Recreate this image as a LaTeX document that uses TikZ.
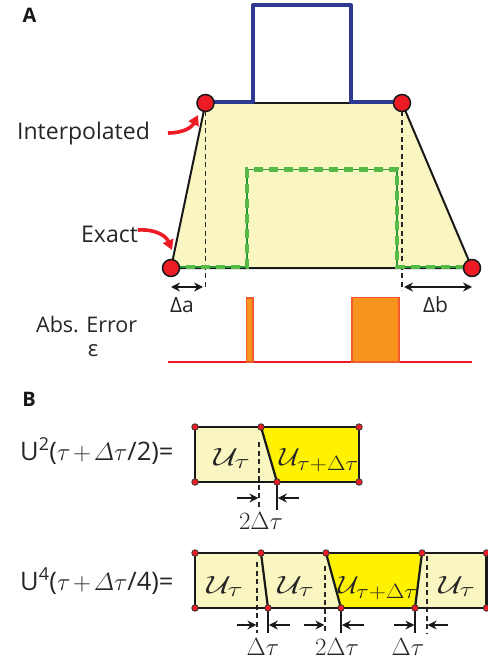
\documentclass[tikz,border=0pt]{standalone}
\usepackage[no-math]{fontspec}
\setmainfont{Open Sans}
\usepackage{amsmath}
\usetikzlibrary{arrows.meta}
\definecolor{lightyel}{RGB}{250,246,194}
\definecolor{brightyel}{RGB}{255,242,0}
\definecolor{bluec}{RGB}{43,57,144}
\definecolor{greenc}{RGB}{88,186,70}
\definecolor{greendk}{RGB}{40,150,60}
\definecolor{redc}{RGB}{237,28,36}
\definecolor{orangef}{RGB}{247,148,29}
\definecolor{orangel}{RGB}{241,90,41}
\newcommand\Ut{\scalebox{1.35}[1]{$\mathcal{U}_\tau$}}
\newcommand\Utd{\scalebox{1.15}[1]{$\mathcal{U}_{\tau+\Delta\tau}$}}
\tikzset{
  outl/.style={line width=2pt,black!90},
  dashln/.style={line width=1.4pt,black!85,dash pattern=on 5pt off 3.5pt},
  greenthin/.style={line width=1.1pt,greendk},
  greendash/.style={line width=4.6pt,greenc,dash pattern=on 9pt off 6pt},
  bluel/.style={line width=4pt,bluec,line join=round},
  bigdot/.style={circle,fill=redc,draw=black!90,line width=1.5pt,minimum size=17pt,inner sep=0pt},
  smalldot/.style={circle,fill=redc,draw=black!80,line width=0.8pt,minimum size=6.5pt,inner sep=0pt},
  dimarr/.style={line width=1.8pt,black!90,{Stealth[length=9pt,width=9pt]}-{Stealth[length=9pt,width=9pt]}},
  onearr/.style={line width=1.8pt,black!90,-{Stealth[length=9pt,width=9pt]}},
  redarr/.style={line width=3.6pt,redc,-{Triangle[length=10pt,width=11pt]}},
  bar/.style={fill=orangef,draw=orangel,line width=1.5pt},
  boxl/.style={line width=2.2pt,black!90,line join=round},
  tick/.style={line width=1.8pt,black!90},
  lbl/.style={inner sep=0pt,anchor=base west,font=\fontsize{23}{26}\selectfont,text=black!85},
  panel/.style={inner sep=0pt,font=\fontsize{20}{22}\selectfont\bfseries,text=black!90},
  mlab/.style={inner sep=0pt,anchor=base,font=\fontsize{29}{31}\selectfont,text=black!85},
  dlab/.style={inner sep=0pt,anchor=base,font=\fontsize{25}{27}\selectfont,text=black!85}
}
\begin{document}
\begin{tikzpicture}[x=1pt,y=-1pt]
\useasboundingbox (0,0) rectangle (487,663);
% ---------- Panel A ----------
\coordinate (TL) at (205.5,103);
\coordinate (TR) at (402,103);
\coordinate (BL) at (171,268);
\coordinate (BR) at (472,268);
\fill[lightyel] (TL) -- (TR) -- (BR) -- (BL) -- cycle;
\coordinate (DL) at (205.5,290);
\coordinate (DR) at (402,290);
\draw[dashln] (TL) -- (DL);
\draw[dashln] (TR) -- (DR);
\coordinate (G1) at (171,267);
\coordinate (G2) at (247,267);
\coordinate (G3) at (247,169.5);
\coordinate (G4) at (397,169.5);
\coordinate (G5) at (397,267);
\coordinate (G6) at (472,267);
\draw[outl] (TL) -- (BL) -- (BR) -- (TR);
\draw[line width=1.3pt,black!90] (TL) -- (TR);
\draw[greenthin] (G1) -- (G2) -- (G3) -- (G4) -- (G5) -- (G6);
\draw[greendash] (G1) -- (G2) -- (G3) -- (G4) -- (G5) -- (G6);
\coordinate (K1) at (253,102.5);
\coordinate (K2) at (253,5.5);
\coordinate (K3) at (351,5.5);
\coordinate (K4) at (351,102.5);
\coordinate (TLb) at (205.5,102.5);
\coordinate (TRb) at (402,102.5);
\draw[bluel] (TLb) -- (K1) -- (K2) -- (K3) -- (K4) -- (TRb);
\node[bigdot] (dTL) at (TL) {};
\node[bigdot] (dTR) at (TR) {};
\node[bigdot] (dBL) at (BL) {};
\node[bigdot] (dBR) at (BR) {};
\node[panel] (labA) at (29.5,15) {A};
\node[lbl] (interp) at (17,140) {Interpolated};
\node[lbl] (exact) at (81,242) {Exact};
\coordinate (ia) at (168,133);
\coordinate (ib) at (198,115);
\draw[redarr] (ia) .. controls (184,133) and (192,127) .. (ib);
\coordinate (ea) at (138,230);
\coordinate (eb) at (172,250);
\draw[redarr] (ea) .. controls (156,229) and (166,236) .. (eb);
\coordinate (a1) at (171,287);
\coordinate (a2) at (203,287);
\coordinate (b1) at (404,287);
\coordinate (b2) at (472,287);
\draw[dimarr] (a1) -- (a2);
\draw[dimarr] (b1) -- (b2);
\node[lbl,font=\fontsize{21}{24}\selectfont] (da) at (170,312) {Δa};
\node[lbl,font=\fontsize{21}{24}\selectfont] (db) at (423,312) {Δb};
\node[lbl,font=\fontsize{21.5}{24}\selectfont] (abs) at (36,332) {Abs. Error};
\node[inner sep=0pt,anchor=base,font=\fontsize{22}{24}\selectfont,text=black!85] (eps) at (93,356) {ε};
\coordinate (e1) at (168,362);
\coordinate (e2) at (472,362);
\draw[line width=1.5pt,redc] (e1) -- (e2);
\coordinate (s1) at (246.5,298);
\coordinate (s2) at (253,362);
\coordinate (t1) at (352,297.5);
\coordinate (t2) at (399,362);
\filldraw[bar] (s1) rectangle (s2);
\filldraw[bar] (t1) rectangle (t2);
% ---------- Panel B ----------
\node[panel] (labB) at (29,399) {B};
\node[lbl,font=\fontsize{25.5}{28}\selectfont] (eq2) at (20,460) {U\textsuperscript{2}($\tau\mkern2mu{+}\mkern2mu\varDelta\tau$/2)=};
\node[lbl,font=\fontsize{25.5}{28}\selectfont] (eq4) at (20,590) {U\textsuperscript{4}($\tau\mkern2mu{+}\mkern2mu\varDelta\tau$/4)=};
% box 1
\coordinate (p1) at (195,427);
\coordinate (p2) at (261,427);
\coordinate (p3) at (359,427);
\coordinate (q1) at (195,482);
\coordinate (q2) at (277,482);
\coordinate (q3) at (359,482);
\fill[lightyel] (p1) -- (p2) -- (q2) -- (q1) -- cycle;
\fill[brightyel] (p2) -- (p3) -- (q3) -- (q2) -- cycle;
\coordinate (h1) at (259,442);
\coordinate (h2) at (259,510);
\draw[dashln] (h1) -- (h2);
\draw[boxl] (p1) -- (p3) -- (q3) -- (q1) -- cycle;
\draw[boxl] (p2) -- (q2);
\coordinate (k2) at (277,510);
\draw[tick] (q2) -- (k2);
\coordinate (r1) at (237,498);
\coordinate (r2) at (258.4,498);
\coordinate (r3) at (299,498);
\coordinate (r4) at (277.8,498);
\draw[onearr] (r1) -- (r2);
\draw[onearr] (r3) -- (r4);
\foreach \n in {p1,p2,p3,q1,q2,q3} \node[smalldot] (dot\n) at (\n) {};
\node[mlab] (u1a) at (232,465) {\Ut};
\node[mlab] (u1b) at (319,465) {\Utd};
\node[dlab] (l1) at (261,529) {$2\Delta\tau$};
% box 2
\coordinate (P1) at (195,553);
\coordinate (P2) at (261,553);
\coordinate (P3) at (326,553);
\coordinate (P4) at (422,553);
\coordinate (P5) at (486.5,553);
\coordinate (Q1) at (195,608);
\coordinate (Q2) at (268,608);
\coordinate (Q3) at (341,608);
\coordinate (Q4) at (415,608);
\coordinate (Q5) at (486.5,608);
\fill[lightyel] (P1) -- (P3) -- (Q3) -- (Q1) -- cycle;
\fill[lightyel] (P4) -- (P5) -- (Q5) -- (Q4) -- cycle;
\fill[brightyel] (P3) -- (P4) -- (Q4) -- (Q3) -- cycle;
\coordinate (H1) at (257,562);
\coordinate (H2) at (257,633);
\coordinate (H3) at (325,566);
\coordinate (H4) at (325,633);
\coordinate (H5) at (427,556);
\coordinate (H6) at (427,633);
\draw[dashln] (H1) -- (H2);
\draw[dashln] (H3) -- (H4);
\draw[dashln] (H5) -- (H6);
\draw[boxl] (P5) -- (P1) -- (Q1) -- (Q5) -- cycle;
\draw[boxl] (P2) -- (Q2);
\draw[boxl] (P3) -- (Q3);
\draw[boxl] (P4) -- (Q4);
\coordinate (T2) at (268,633);
\coordinate (T3) at (341,633);
\coordinate (T4) at (415,633);
\draw[tick] (Q2) -- (T2);
\draw[tick] (Q3) -- (T3);
\draw[tick] (Q4) -- (T4);
\coordinate (R1) at (237,625);
\coordinate (R2) at (256.4,625);
\coordinate (R3) at (290,625);
\coordinate (R4) at (268.8,625);
\coordinate (R5) at (304,625);
\coordinate (R6) at (324.4,625);
\coordinate (R7) at (364,625);
\coordinate (R8) at (341.8,625);
\coordinate (R9) at (394,625);
\coordinate (R10) at (414.4,625);
\coordinate (R11) at (448,625);
\coordinate (R12) at (427.6,625);
\draw[onearr] (R1) -- (R2);
\draw[onearr] (R3) -- (R4);
\draw[onearr] (R5) -- (R6);
\draw[onearr] (R7) -- (R8);
\draw[onearr] (R9) -- (R10);
\draw[onearr] (R11) -- (R12);
\foreach \n in {P1,P2,P3,P4,P5,Q1,Q2,Q3,Q4,Q5} \node[smalldot] (dot\n) at (\n) {};
\node[mlab] (u2a) at (225,593) {\Ut};
\node[mlab] (u2b) at (296,593) {\Ut};
\node[mlab] (u2c) at (378,593) {\Utd};
\node[mlab] (u2d) at (457,593) {\Ut};
\node[dlab] (l2) at (263,655) {$\Delta\tau$};
\node[dlab] (l3) at (337,655) {$2\Delta\tau$};
\node[dlab] (l4) at (408,655) {$\Delta\tau$};
\end{tikzpicture}
\end{document}
